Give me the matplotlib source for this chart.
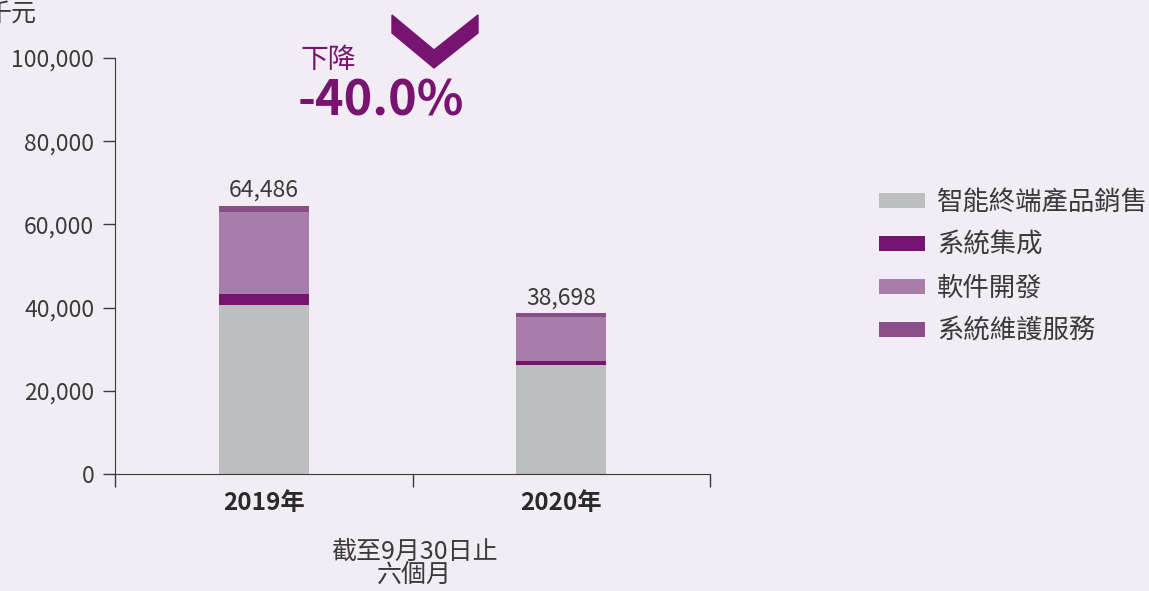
import matplotlib.pyplot as plt
import numpy as np

plt.rcParams['font.family'] = ['Noto Sans CJK TC', 'DejaVu Sans']

years = ["2019年", "2020年"]
series = ["智能終端產品銷售", "系統集成", "軟件開發", "系統維護服務"]
terminal = [40600, 26200]
integration = [2700, 900]
software = [19600, 10600]
maintenance = [1586, 998]
totals = ["64,486", "38,698"]
colors = ["#bdbec2", "#76146f", "#a67ea9", "#8b4e8a"]
bg = "#f2edf4"
purple = "#76146f"
txt = "#3a3a3a"

fig = plt.figure(figsize=(11.49, 5.91), dpi=100, facecolor=bg)
ax = fig.add_axes([115 / 1149, 117 / 591, 595 / 1149, 416 / 591], facecolor=bg)

x = np.array([0.5, 1.5])
bottom = np.zeros(2)
handles = []
for vals, name, c in zip([terminal, integration, software, maintenance], series, colors):
    b = ax.bar(x, vals, width=0.303, bottom=bottom, color=c, label=name)
    handles.append(b)
    bottom += np.array(vals)

for xi, top, lab in zip(x, bottom, totals):
    ax.text(xi, top + 900, lab, ha="center", va="bottom", fontsize=16.5,
            color=txt, fontweight="light")

ax.set_xlim(0, 2)
ax.set_ylim(0, 100000)
ax.set_yticks(range(0, 100001, 20000))
ax.set_yticklabels([f"{v:,}" for v in range(0, 100001, 20000)], fontsize=16.5,
                   color=txt, fontweight="light")
ax.set_xticks([0, 1, 2])
ax.set_xticklabels([])
for xi, yr in zip(x, years):
    ax.text(xi, -4200, yr, ha="center", va="top", fontsize=17.5, fontweight="bold", color="#2a2a2a")
ax.tick_params(axis="y", length=9, width=1, color=txt, pad=6)
ax.tick_params(axis="x", length=9, width=1, color=txt)
for s in ["top", "right"]:
    ax.spines[s].set_visible(False)
for s in ["left", "bottom"]:
    ax.spines[s].set_color(txt)

fig.text(414 / 1149, 1 - 563 / 591, "截至9月30日止\n六個月", ha="center", va="center",
         fontsize=18, color=txt, linespacing=0.85, fontweight="light")
fig.text(-0.012, 1 - 14 / 591, "千元", ha="left", va="center", fontsize=18,
         color=txt, fontweight="light")

# 下降 annotation
fig.text(300 / 1149, 1 - 60 / 591, "下降", ha="left", va="center", fontsize=20,
         color=purple, fontweight="light")
fig.text(298 / 1149, 1 - 101 / 591, "-40.0%", ha="left", va="center", fontsize=35,
         color=purple, fontweight="bold")
chev = np.array([[392, 15], [392, 33], [434, 68], [478, 33], [478, 15], [434, 50]], dtype=float)
chev[:, 0] /= 1149
chev[:, 1] = 1 - chev[:, 1] / 591
fig.patches.append(plt.Polygon(chev, closed=True, transform=fig.transFigure, color=purple))

fig.legend(handles=handles, labels=series, loc="upper left",
           bbox_to_anchor=(879 / 1149, 1 - 189 / 591), frameon=False,
           borderpad=0, borderaxespad=0,
           handlelength=1.75, handleheight=0.5, labelspacing=0.6, handletextpad=0.45,
           labelcolor=txt, prop={"weight": "light", "size": 19})

fig.savefig("out.png", dpi=100, facecolor=bg)
